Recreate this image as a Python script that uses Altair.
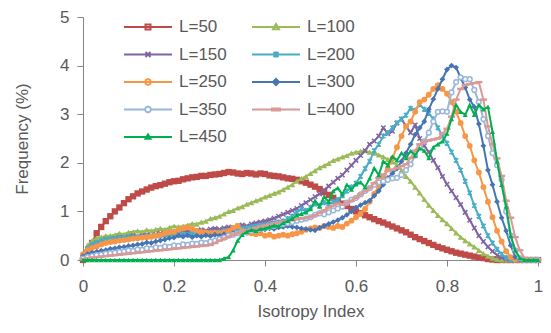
import altair as alt
import pandas as pd

XS = [0.00, 0.01, 0.02, 0.03, 0.04, 0.05, 0.06, 0.07, 0.08, 0.09,
      0.10, 0.11, 0.12, 0.13, 0.14, 0.15, 0.16, 0.17, 0.18, 0.19,
      0.20, 0.21, 0.22, 0.23, 0.24, 0.25, 0.26, 0.27, 0.28, 0.29,
      0.30, 0.31, 0.32, 0.33, 0.34, 0.35, 0.36, 0.37, 0.38, 0.39,
      0.40, 0.41, 0.42, 0.43, 0.44, 0.45, 0.46, 0.47, 0.48, 0.49,
      0.50, 0.51, 0.52, 0.53, 0.54, 0.55, 0.56, 0.57, 0.58, 0.59,
      0.60, 0.61, 0.62, 0.63, 0.64, 0.65, 0.66, 0.67, 0.68, 0.69,
      0.70, 0.71, 0.72, 0.73, 0.74, 0.75, 0.76, 0.77, 0.78, 0.79,
      0.80, 0.81, 0.82, 0.83, 0.84, 0.85, 0.86, 0.87, 0.88, 0.89,
      0.90, 0.91, 0.92, 0.93, 0.94, 0.95, 0.96, 0.97, 0.98, 0.99, 1.00]

L50 = [0.00, 0.15, 0.35, 0.55, 0.68, 0.80, 0.90, 1.00, 1.08, 1.17,
       1.25, 1.31, 1.37, 1.41, 1.45, 1.49, 1.52, 1.54, 1.57, 1.60,
       1.62, 1.63, 1.66, 1.68, 1.70, 1.71, 1.73, 1.73, 1.75, 1.76,
       1.77, 1.79, 1.81, 1.80, 1.78, 1.77, 1.79, 1.78, 1.76, 1.78,
       1.77, 1.74, 1.73, 1.72, 1.70, 1.68, 1.67, 1.65, 1.62, 1.59,
       1.55, 1.51, 1.46, 1.40, 1.34, 1.28, 1.22, 1.16, 1.11, 1.05,
       1.00, 0.96, 0.92, 0.88, 0.84, 0.80, 0.77, 0.73, 0.69, 0.65,
       0.61, 0.57, 0.52, 0.47, 0.43, 0.39, 0.35, 0.31, 0.27, 0.24,
       0.21, 0.18, 0.15, 0.13, 0.11, 0.09, 0.07, 0.05, 0.04, 0.02,
       0.01, 0, 0, 0, 0, 0, 0, 0, 0, 0, 0]

L100 = [0.10, 0.30, 0.40, 0.45, 0.47, 0.50, 0.50, 0.52, 0.55, 0.53,
        0.57, 0.58, 0.60, 0.58, 0.62, 0.60, 0.63, 0.65, 0.63, 0.67,
        0.70, 0.68, 0.70, 0.72, 0.75, 0.74, 0.78, 0.80, 0.85, 0.87,
        0.90, 0.95, 1.00, 1.02, 1.07, 1.10, 1.15, 1.18, 1.22, 1.25,
        1.30, 1.33, 1.37, 1.40, 1.45, 1.50, 1.55, 1.62, 1.68, 1.72,
        1.78, 1.84, 1.90, 1.94, 1.99, 2.05, 2.08, 2.12, 2.15, 2.20,
        2.22, 2.24, 2.25, 2.22, 2.20, 2.16, 2.12, 2.07, 2.02, 1.96,
        1.85, 1.72, 1.62, 1.50, 1.38, 1.25, 1.13, 1.02, 0.92, 0.83,
        0.75, 0.65, 0.56, 0.47, 0.40, 0.33, 0.27, 0.20, 0.13, 0.08,
        0.04, 0.01, 0, 0, 0, 0, 0, 0, 0, 0, 0]

L150 = [0.05, 0.20, 0.28, 0.32, 0.36, 0.42, 0.40, 0.44, 0.47, 0.45,
        0.48, 0.50, 0.47, 0.50, 0.52, 0.50, 0.53, 0.55, 0.52, 0.55,
        0.57, 0.55, 0.58, 0.60, 0.57, 0.60, 0.62, 0.60, 0.63, 0.65,
        0.63, 0.66, 0.68, 0.66, 0.70, 0.72, 0.70, 0.74, 0.76, 0.78,
        0.80, 0.83, 0.86, 0.90, 0.94, 0.98, 1.02, 1.06, 1.12, 1.18,
        1.24, 1.30, 1.36, 1.44, 1.52, 1.60, 1.68, 1.75, 1.85, 1.95,
        2.05, 2.15, 2.25, 2.38, 2.45, 2.55, 2.72, 2.60, 2.65, 2.82,
        2.90, 2.75, 2.62, 2.78, 2.50, 2.35, 2.22, 2.05, 1.90, 1.72,
        1.56, 1.42, 1.28, 1.14, 0.98, 0.82, 0.66, 0.50, 0.38, 0.27,
        0.18, 0.10, 0.05, 0.02, 0, 0, 0, 0, 0, 0, 0]

L200 = [0.05, 0.24, 0.32, 0.36, 0.40, 0.42, 0.44, 0.43, 0.46, 0.45,
        0.47, 0.46, 0.48, 0.47, 0.49, 0.48, 0.50, 0.49, 0.51, 0.50,
        0.52, 0.51, 0.53, 0.52, 0.54, 0.55, 0.54, 0.56, 0.57, 0.56,
        0.58, 0.60, 0.59, 0.62, 0.63, 0.65, 0.66, 0.68, 0.69, 0.71,
        0.72, 0.74, 0.76, 0.78, 0.80, 0.85, 0.90, 0.98, 1.05, 1.02,
        1.08, 1.15, 1.12, 1.18, 1.15, 1.20, 1.24, 1.32, 1.42, 1.50,
        1.58, 1.72, 1.88, 2.03, 2.25, 2.38, 2.55, 2.62, 2.72, 2.82,
        2.90, 2.98, 3.12, 3.08, 3.20, 3.10, 3.02, 2.90, 2.72, 2.55,
        2.40, 2.22, 2.05, 1.85, 1.62, 1.38, 1.12, 0.90, 0.70, 0.50,
        0.35, 0.22, 0.12, 0.05, 0.01, 0, 0, 0, 0, 0, 0]

L250 = [0.12, 0.20, 0.25, 0.28, 0.32, 0.35, 0.37, 0.38, 0.40, 0.41,
        0.42, 0.44, 0.45, 0.46, 0.47, 0.48, 0.50, 0.51, 0.55, 0.57,
        0.58, 0.62, 0.65, 0.67, 0.64, 0.60, 0.58, 0.57, 0.55, 0.56,
        0.55, 0.57, 0.60, 0.66, 0.70, 0.60, 0.56, 0.55, 0.53, 0.55,
        0.50, 0.52, 0.48, 0.50, 0.52, 0.50, 0.53, 0.55, 0.58, 0.62,
        0.65, 0.67, 0.66, 0.70, 0.68, 0.66, 0.70, 0.68, 0.75, 0.81,
        0.88, 0.95, 1.05, 1.20, 1.36, 1.52, 1.69, 1.88, 2.09, 2.32,
        2.55, 2.75, 2.85, 3.05, 3.25, 3.30, 3.40, 3.52, 3.60, 3.52,
        3.42, 3.25, 3.05, 2.82, 2.55, 2.35, 2.05, 1.80, 1.50, 1.20,
        0.88, 0.60, 0.38, 0.18, 0.06, 0.01, 0, 0, 0, 0, 0]

L300 = [0.08, 0.12, 0.15, 0.17, 0.19, 0.20, 0.23, 0.24, 0.26, 0.27,
        0.29, 0.30, 0.32, 0.33, 0.36, 0.35, 0.38, 0.40, 0.42, 0.45,
        0.46, 0.50, 0.48, 0.51, 0.47, 0.50, 0.48, 0.51, 0.49, 0.52,
        0.50, 0.53, 0.51, 0.55, 0.56, 0.57, 0.58, 0.60, 0.61, 0.62,
        0.63, 0.65, 0.64, 0.67, 0.68, 0.70, 0.68, 0.67, 0.65, 0.64,
        0.62, 0.61, 0.66, 0.70, 0.74, 0.78, 0.82, 0.87, 0.93, 1.00,
        1.08, 1.13, 1.18, 1.22, 1.32, 1.42, 1.55, 1.69, 1.78, 1.88,
        2.03, 2.20, 2.38, 2.58, 2.72, 2.85, 3.10, 3.31, 3.52, 3.72,
        3.92, 4.00, 3.96, 3.75, 3.55, 3.30, 3.15, 2.80, 2.35, 1.85,
        1.55, 1.20, 0.87, 0.60, 0.30, 0.06, 0, 0, 0, 0, 0]

L350 = [0.03, 0.06, 0.08, 0.10, 0.11, 0.13, 0.14, 0.15, 0.17, 0.18,
        0.20, 0.19, 0.22, 0.21, 0.24, 0.23, 0.26, 0.25, 0.28, 0.27,
        0.30, 0.29, 0.32, 0.31, 0.34, 0.33, 0.36, 0.35, 0.38, 0.40,
        0.43, 0.46, 0.50, 0.52, 0.55, 0.57, 0.58, 0.60, 0.62, 0.64,
        0.66, 0.68, 0.70, 0.72, 0.74, 0.76, 0.78, 0.81, 0.83, 0.85,
        0.88, 0.93, 0.96, 0.94, 0.98, 1.02, 1.06, 1.10, 1.18, 1.24,
        1.28, 1.35, 1.42, 1.48, 1.55, 1.60, 1.62, 1.65, 1.68, 1.69,
        1.75, 1.85, 1.97, 2.15, 2.32, 2.44, 2.62, 2.85, 3.05, 3.06,
        3.05, 3.45, 3.66, 3.76, 3.72, 3.72, 3.50, 3.25, 2.90, 2.55,
        2.20, 1.95, 1.65, 1.00, 0.50, 0.20, 0.04, 0, 0, 0, 0]

L400 = [0.02, 0.04, 0.05, 0.06, 0.07, 0.08, 0.09, 0.10, 0.11, 0.12,
        0.13, 0.14, 0.15, 0.16, 0.17, 0.18, 0.19, 0.20, 0.21, 0.22,
        0.23, 0.24, 0.25, 0.26, 0.27, 0.28, 0.29, 0.30, 0.31, 0.35,
        0.40, 0.44, 0.48, 0.52, 0.55, 0.58, 0.61, 0.64, 0.66, 0.69,
        0.71, 0.73, 0.75, 0.77, 0.79, 0.80, 0.82, 0.84, 0.85, 0.86,
        0.88, 0.92, 0.97, 1.02, 1.08, 1.12, 1.16, 1.14, 1.18, 1.22,
        1.28, 1.35, 1.42, 1.48, 1.58, 1.69, 1.76, 1.83, 1.86, 1.89,
        1.93, 1.97, 2.10, 2.25, 2.38, 2.44, 2.46, 2.48, 2.50, 2.60,
        2.70, 2.95, 3.30, 3.52, 3.60, 3.62, 3.64, 3.66, 3.30, 2.75,
        2.38, 2.09, 1.73, 1.22, 0.87, 0.47, 0.20, 0.04, 0.02, 0.01, 0]

L450 = [0, 0, 0, 0, 0, 0, 0, 0, 0, 0,
        0, 0, 0, 0, 0, 0, 0, 0, 0, 0,
        0, 0, 0, 0, 0, 0, 0, 0, 0, 0,
        0, 0.03, 0.06, 0.20, 0.40, 0.52, 0.58, 0.62, 0.60, 0.64,
        0.65, 0.68, 0.71, 0.70, 0.76, 0.80, 0.85, 0.92, 0.95, 0.98,
        1.05, 1.22, 1.10, 1.30, 1.20, 1.42, 1.48, 1.35, 1.55, 1.45,
        1.56, 1.60, 1.50, 1.68, 1.89, 1.75, 2.03, 1.95, 2.13, 2.05,
        2.20, 2.10, 2.24, 2.15, 2.30, 2.25, 2.10, 2.32, 2.38, 2.44,
        2.60, 2.90, 3.19, 3.05, 2.99, 3.19, 2.99, 3.19, 3.10, 3.15,
        2.64, 2.03, 1.55, 1.10, 0.50, 0.20, 0.04, 0, 0, 0, 0]

SERIES = ["L=50", "L=100", "L=150", "L=200", "L=250",
          "L=300", "L=350", "L=400", "L=450"]
VALUES = [L50, L100, L150, L200, L250, L300, L350, L400, L450]
COLORS = ["#BE4B48", "#9BBB59", "#8064A2", "#4BACC6", "#F79646",
          "#4674B4", "#9AB6DB", "#DA9997", "#00B050"]

rows = []
for name, vals in zip(SERIES, VALUES):
    for xv, yv in zip(XS, vals):
        rows.append({"x": xv, "y": yv, "series": name})
df = pd.DataFrame(rows)

FONT = "Liberation Sans"
TXT = "#595959"
AX = "#868686"

x_enc = alt.X("x:Q", scale=alt.Scale(domain=[0, 1], nice=False),
              axis=alt.Axis(values=[0, 0.2, 0.4, 0.6, 0.8, 1], format="~g",
                            title="Isotropy Index", tickSize=6, labelPadding=12,
                            titlePadding=9, labelFlush=False))
y_enc = alt.Y("y:Q", scale=alt.Scale(domain=[0, 5], nice=False),
              axis=alt.Axis(values=[0, 1, 2, 3, 4, 5], format="d",
                            title="Frequency (%)", tickSize=6, labelPadding=8,
                            titlePadding=28, labelFlush=False))

MARKERS = {
    "L=50": dict(shape="square", filled=True, size=40),
    "L=100": dict(shape="triangle-up", filled=True, size=36),
    "L=150": dict(shape="M-1,-1L1,1M-1,1L1,-1", filled=False, size=20, strokeWidth=1.5),
    "L=200": dict(shape="M-1,-1L1,1M-1,1L1,-1M0,-1.3V1.3", filled=False, size=18, strokeWidth=1.5),
    "L=250": dict(shape="circle", filled=True, size=34),
    "L=300": dict(shape="diamond", filled=True, size=34),
    "L=350": dict(shape="circle", filled=False, fill="white", size=22, strokeWidth=1.5),
    "L=400": dict(shape="M-1,-0.35H1V0.35H-1Z", filled=True, size=50),
    "L=450": dict(shape="triangle-up", filled=True, size=26),
}

layers = []
for name, col in zip(SERIES, COLORS):
    base = alt.Chart(df).transform_filter(alt.datum.series == name)
    layers.append(base.mark_line(strokeWidth=2).encode(x=x_enc, y=y_enc, color=alt.value(col)))
    layers.append(base.mark_point(opacity=1, **MARKERS[name]).encode(
        x=x_enc, y=y_enc, color=alt.value(col)))

OCT = "M1.7,0L1.61,0.21L1.4,0.3L1.19,0.21L1.1,0L1.19,-0.21L1.4,-0.3L1.61,-0.21Z"
LEGEND_SHAPES = [
    "M-1,0H3.8M1.15,-0.25H1.65V0.25H1.15Z",
    "M-1,0H3.8M1.4,-0.3L1.7,0.22H1.1Z",
    "M-1,0H3.8M1.15,-0.25L1.65,0.25M1.15,0.25L1.65,-0.25",
    "M-1,0H3.8M1.15,-0.25L1.65,0.25M1.15,0.25L1.65,-0.25M1.4,-0.3V0.3",
    "M-1,0H3.8" + OCT,
    "M-1,0H3.8M1.4,-0.3L1.7,0L1.4,0.3L1.1,0Z",
    "M-1,0H1.1M1.7,0H3.8" + OCT,
    "M-1,0H3.8M1.0,-0.1H1.8V0.1H1.0Z",
    "M-1,0H3.8M1.4,-0.25L1.65,0.18H1.15Z",
]

leg = alt.Legend(orient="none", legendX=40, legendY=-1, columns=2, direction="horizontal",
                 title=None, symbolSize=400, symbolStrokeWidth=2, labelOffset=34,
                 labelFontSize=17, labelFont=FONT, labelColor=TXT,
                 rowPadding=8.5, columnPadding=21)

# legend-only layer: its points sit outside the plotted domain and are clipped away
legend_df = pd.DataFrame({"legend": SERIES, "x": [-1.0] * len(SERIES),
                          "y": [-1.0] * len(SERIES)})
legend_layer = alt.Chart(legend_df).mark_point(filled=False, opacity=1, clip=True).encode(
    x=alt.X("x:Q"), y=alt.Y("y:Q"),
    color=alt.Color("legend:N", scale=alt.Scale(domain=SERIES, range=COLORS), legend=leg),
    shape=alt.Shape("legend:N", scale=alt.Scale(domain=SERIES, range=LEGEND_SHAPES), legend=leg),
)

chart = alt.layer(*layers, legend_layer).properties(
    width=455, height=243,
    autosize=alt.AutoSizeParams(type="none"),
    padding={"left": 75, "top": 9, "right": 5, "bottom": 65},
).configure_view(stroke=None).configure_axis(
    grid=False, domainColor=AX, tickColor=AX, labelColor=TXT, titleColor=TXT,
    labelFont=FONT, titleFont=FONT, labelFontSize=17, titleFontSize=17,
    titleFontWeight="normal", domainWidth=1,
)

chart.save("out.html", embed_options={"renderer": "svg", "actions": False})
